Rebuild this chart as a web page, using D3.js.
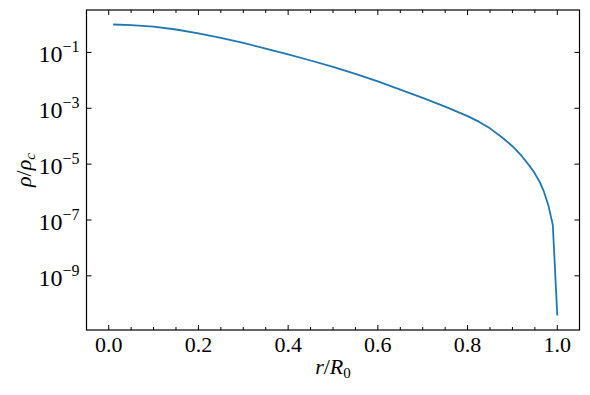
<!doctype html>
<html lang="en">
<head>
  <meta charset="utf-8">
  <title>Density profile</title>
  <style>
    body { margin: 0; background: #fff; }
    text { font-family: "Liberation Serif", "DejaVu Serif", serif; fill: #000; }
  </style>
</head>
<body>
<svg id="chart" width="590" height="395"></svg>

<script src="https://d3js.org/d3.v7.min.js"></script>
<script type="text/javascript">
// radius r/R0 and density rho/rho_c
const radius = [0.01, 0.05, 0.10, 0.15, 0.20, 0.25, 0.30, 0.35, 0.40, 0.45,
  0.50, 0.55, 0.60, 0.65, 0.70, 0.75, 0.80, 0.825, 0.85, 0.875,
  0.90, 0.92, 0.94, 0.95, 0.96, 0.97, 0.98, 0.99, 1.00];
const density = [1.0, 9.55e-1, 8.41e-1, 6.61e-1, 4.79e-1, 3.31e-1, 2.19e-1, 1.38e-1, 8.51e-2, 5.13e-2,
  3.02e-2, 1.70e-2, 9.12e-3, 4.68e-3, 2.34e-3, 1.15e-3, 5.25e-4, 3.31e-4, 1.91e-4, 9.55e-5,
  4.37e-5, 2.0e-5, 7.94e-6, 4.57e-6, 2.45e-6, 1.05e-6, 3.39e-7, 6.61e-8, 3.80e-11];

const xTicks = [0.0, 0.2, 0.4, 0.6, 0.8, 1.0];
const xMinorTicks = d3.range(0, 1.0001, 0.05);
const yTickExp = [-1, -3, -5, -7, -9];

const data = radius.map((r, i) => ({ r: r, rho: density[i] }));

const chart = d3.select('#chart');
const margin = { top: 10, left: 86.5 };
const width = 493;
const height = 320;
const g = chart.append('g')
  .attr('transform', `translate(${margin.left} ${margin.top})`);

const x = d3.scaleLinear().domain([-0.0495, 1.0495]).range([0, width]);
const y = d3.scaleLog().domain([1.15e-11, 3.3]).range([height, 0]);

const line = d3.line()
  .x(d => x(d.r))
  .y(d => y(d.rho));

g.append('path')
  .datum(data)
  .attr('fill', 'none')
  .attr('stroke', '#1f77b4')
  .attr('stroke-width', 1.8)
  .attr('stroke-linejoin', 'round')
  .attr('d', line);

// ticks pointing inward on all four sides
xMinorTicks.forEach(t => {
  const major = xTicks.some(m => Math.abs(m - t) < 1e-6);
  const len = major ? 5 : 3;
  g.append('line').attr('x1', x(t)).attr('x2', x(t))
    .attr('y1', height).attr('y2', height - len)
    .attr('stroke', '#000').attr('stroke-width', 1);
  g.append('line').attr('x1', x(t)).attr('x2', x(t))
    .attr('y1', 0).attr('y2', len)
    .attr('stroke', '#000').attr('stroke-width', 1);
});
yTickExp.forEach(e => {
  const yy = y(Math.pow(10, e));
  g.append('line').attr('x1', 0).attr('x2', 5)
    .attr('y1', yy).attr('y2', yy)
    .attr('stroke', '#000').attr('stroke-width', 1);
  g.append('line').attr('x1', width).attr('x2', width - 5)
    .attr('y1', yy).attr('y2', yy)
    .attr('stroke', '#000').attr('stroke-width', 1);
});

// frame
g.append('rect')
  .attr('width', width).attr('height', height)
  .attr('fill', 'none').attr('stroke', '#000').attr('stroke-width', 1.2);

// x tick labels
g.selectAll('.xlab')
  .data(xTicks)
  .enter().append('text')
  .attr('x', d => x(d))
  .attr('y', height + 22)
  .attr('text-anchor', 'middle')
  .style('font-size', '22px')
  .text(d => d.toFixed(1));

// y tick labels: 10^e
yTickExp.forEach(e => {
  const yy = y(Math.pow(10, e));
  const t = g.append('text')
    .attr('x', -7)
    .attr('y', yy + 10)
    .attr('text-anchor', 'end');
  t.append('tspan').style('font-size', '24px').text('10');
  t.append('tspan').attr('dy', -10).style('font-size', '16px').text('\u2212' + Math.abs(e));
});

// axis labels
g.append('text')
  .attr('x', width / 2)
  .attr('y', height + 44)
  .attr('text-anchor', 'middle')
  .style('font-size', '22px')
  .html('<tspan font-style="italic">r</tspan>/<tspan font-style="italic">R</tspan><tspan dy="4" font-size="15px">0</tspan>');

g.append('text')
  .attr('transform', `translate(${-56} ${height / 2}) rotate(-90)`)
  .attr('text-anchor', 'middle')
  .style('font-size', '22px')
  .html('<tspan font-style="italic">\u03c1</tspan>/<tspan font-style="italic">\u03c1</tspan><tspan dy="4" font-size="15px" font-style="italic">c</tspan>');
</script>
</body>
</html>
